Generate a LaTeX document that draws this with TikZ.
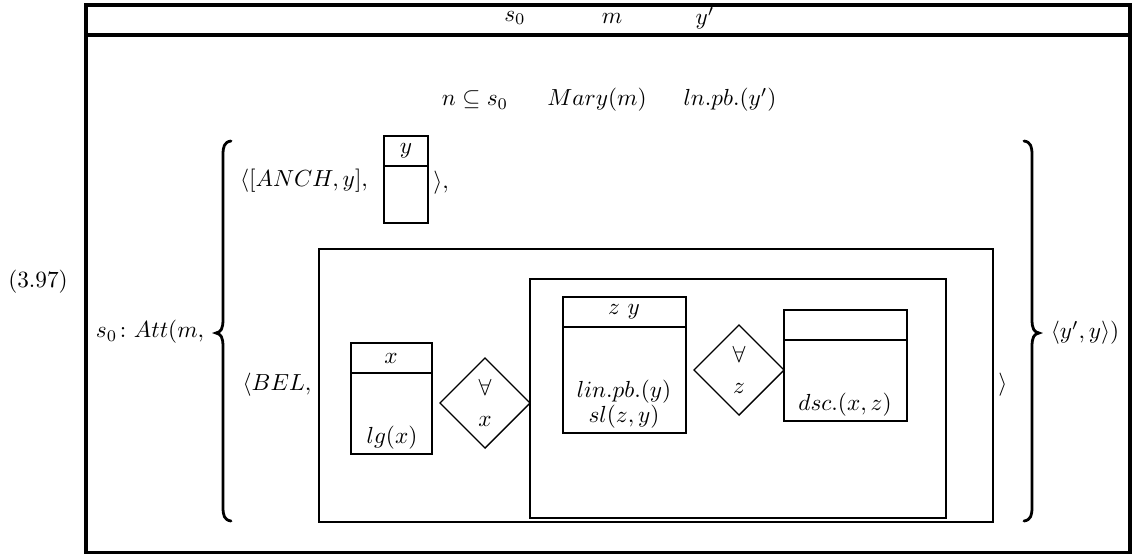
\documentclass[tikz,border=0pt]{standalone}
\usepackage{amsmath,amssymb}
\usepackage{tikz}
\usetikzlibrary{positioning,shapes.geometric}
\tikzset{
  frame/.style={draw=black, line width=1.3pt},
  drsbox/.style={draw=black, line width=1.1pt},
  quant/.style={draw=black, diamond, aspect=1, line width=0.55pt, inner sep=0pt,
    minimum size=39pt, align=center},
  lbl/.style={inner sep=1pt, align=center},
  curly/.style={draw=black, line width=1.2pt, line cap=round},
}
\begin{document}
\begin{tikzpicture}[x=0.43pt,y=-0.43pt]
  \useasboundingbox (0,0) rectangle (1141,554);
  \draw[frame] (86,5) rectangle (1130,552);
  \draw[frame] (86,35) -- (1130,35);
  \node[lbl] (u0) at (515,18) {$s_0$};
  \node[lbl] (u1) at (612,18) {$m$};
  \node[lbl] (u2) at (705,18) {$y'$};
  \node[lbl] (c0) at (475,100) {$n\subseteq s_0$};
  \node[lbl] (c1) at (597,100) {$Mary(m)$};
  \node[lbl] (c2) at (730,100) {$ln.pb.(y')$};
  \node[lbl] (num) at (38,282) {(3.97)};
  \node[lbl] (att) at (150,332) {$s_0\colon Att(m,$};
  \draw[curly] (231,141) .. controls (224,142) and (223,147) .. (223,155) -- (223,319)
    .. controls (223,329) and (221,332) .. (216,333) .. controls (221,334) and (223,337) .. (223,347)
    -- (223,507) .. controls (223,515) and (224,520) .. (231,521);
  \draw[curly] (1024,141) .. controls (1031,142) and (1032,147) .. (1032,155) -- (1032,319)
    .. controls (1032,329) and (1034,332) .. (1039,333) .. controls (1034,334) and (1032,337) .. (1032,347)
    -- (1032,507) .. controls (1032,515) and (1031,520) .. (1024,521);
  \node[lbl] (tail) at (1085,333) {$\langle y',y\rangle)$};
  % anchor pair
  \node[lbl] (anch) at (304,181) {$\langle[ANCH,y],$};
  \draw[drsbox] (384,136) rectangle (428,223);
  \draw[drsbox] (384,166) -- (428,166);
  \node[lbl] (ay) at (406,151) {$y$};
  \node[lbl] (aclose) at (441,183) {$\rangle,$};
  % belief pair
  \node[lbl] (bel) at (277,385) {$\langle BEL,$};
  \node[lbl] (bclose) at (1003,385) {$\rangle$};
  \draw[drsbox] (319,249) rectangle (993,522);
  \draw[drsbox] (351,343) rectangle (432,454);
  \draw[drsbox] (351,373) -- (432,373);
  \node[lbl] (xu) at (391,358) {$x$};
  \node[lbl] (xc) at (392,438) {$lg(x)$};
  \node[quant] (q1) at (485,403) {$\forall$\\[1pt]$x$};
  \draw[drsbox] (530,279) rectangle (946,518);
  \draw[drsbox] (563,297) rectangle (686,433);
  \draw[drsbox] (563,327) -- (686,327);
  \node[lbl] (zu) at (624,312) {$z\ y$};
  \node[lbl] (zc) at (624,404) {$lin.pb.(y)$\\[-1pt]$sl(z,y)$};
  \node[quant] (q2) at (739,370) {$\forall$\\[1pt]$z$};
  \draw[drsbox] (784,310) rectangle (907,421);
  \draw[drsbox] (784,340) -- (907,340);
  \node[lbl] (dc) at (845,405) {$dsc.(x,z)$};
\end{tikzpicture}
\end{document}
